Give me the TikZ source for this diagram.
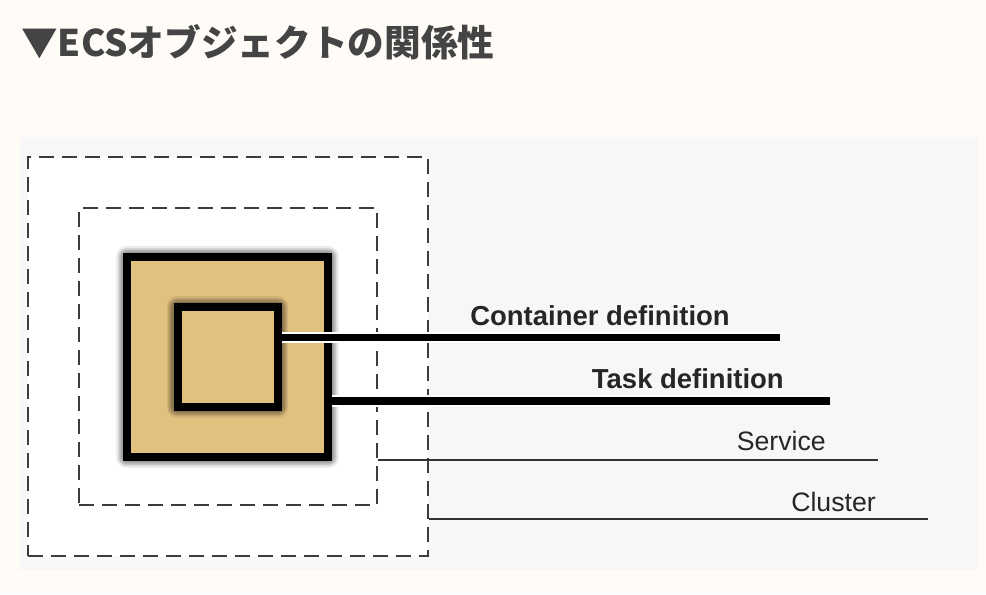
\documentclass[tikz,border=0pt]{standalone}
\usepackage{fontspec}
\setmainfont{Liberation Sans}
\newfontfamily\cjk{Noto Sans CJK JP}
\definecolor{pagebg}{HTML}{FFFCF8}
\definecolor{panelbg}{HTML}{F7F7F7}
\definecolor{tanfill}{HTML}{E2C17F}
\definecolor{dashgray}{HTML}{3C3C3C}
\definecolor{titlegray}{HTML}{444444}
\definecolor{linegray}{HTML}{333333}

\begin{document}
\begin{tikzpicture}[x=0.75pt,y=-0.75pt]
	\tikzstyle{zone}=[draw=dashgray,line width=2.1pt,dash pattern=on 11.25pt off 6pt,fill=white,inner sep=0pt]
	\tikzstyle{defbox}=[draw=black,line width=6pt,fill=tanfill,inner sep=0pt]
	\tikzstyle{halo}=[fill=none,draw=black,draw opacity=.08,line join=round]
	\tikzstyle{glow}=[preaction={halo,line width=16pt},preaction={halo,line width=14pt},
		preaction={halo,line width=12.5pt},preaction={halo,line width=11pt},
		preaction={halo,line width=9.5pt},preaction={halo,line width=8pt}]
	\tikzstyle{heavy}=[draw=black,line width=5.5pt,preaction={draw=white,line width=8.5pt}]
	\tikzstyle{thin}=[draw=linegray,line width=1.5pt]
	\tikzstyle{lbl}=[font=\fontsize{20pt}{24pt}\selectfont,text=black!85,inner sep=0pt,anchor=base east]
	
	% page and panel
	\fill[pagebg] (0,0) rectangle (986,594);
	\useasboundingbox (0,0) rectangle (986,594);
	\fill[panelbg] (20,137) rectangle (978,570);
	
	\node[anchor=west,inner sep=0pt,text=titlegray,font=\cjk\bfseries\fontsize{27.5pt}{32pt}\selectfont] (title) at (21,42) {▼ECSオブジェクトの関係性};
	
	% nested objects
	\node[zone,minimum width=400*0.75pt,minimum height=399*0.75pt] (cluster) at (228,356.5) {};
	\node[zone,minimum width=298*0.75pt,minimum height=297*0.75pt] (service) at (228,356.5) {};
	\node[defbox,glow,minimum width=201*0.75pt,minimum height=200*0.75pt] (task) at (227.5,357) {};
	\node[defbox,glow,minimum width=100*0.75pt,minimum height=100*0.75pt] (container) at (227.5,357) {};
	
	\coordinate (contend) at (780,337.5);
	\coordinate (taskend) at (830,401);
	\coordinate (servend) at (878,460);
	\coordinate (clustend) at (928,519);
	
	\draw[heavy] (container.east |- contend) -- (contend);
	\draw[heavy] (task.east |- taskend) -- (taskend);
	\draw[thin] (service.east |- servend) -- (servend);
	\draw[thin] (cluster.east |- clustend) -- (clustend);
	
	\node[lbl,font=\bfseries\fontsize{20.6pt}{24pt}\selectfont] (contlabel) at (730,325) {Container definition};
	\node[lbl,font=\bfseries\fontsize{20.6pt}{24pt}\selectfont] (tasklabel) at (784,388) {Task definition};
	\node[lbl] (servlabel) at (826,450) {Service};
	\node[lbl] (clustlabel) at (876,511) {Cluster};
	
\end{tikzpicture}
\end{document}
